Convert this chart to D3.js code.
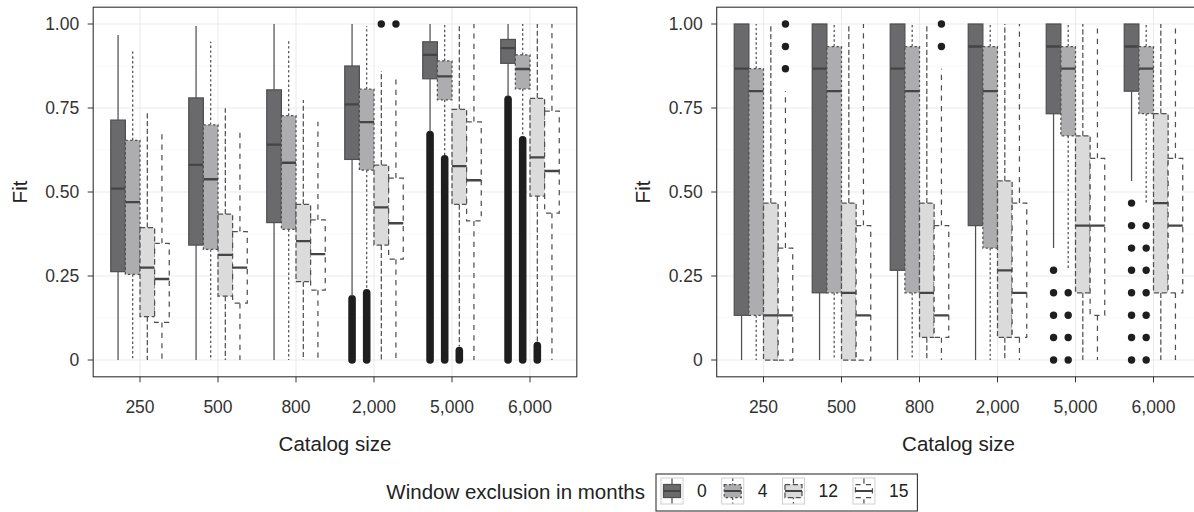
<!DOCTYPE html>
<html lang="en">
<meta charset="utf-8">
<script src="https://cdn.jsdelivr.net/npm/d3@7"></script>
<style>
body { margin: 0; background: #fff; }
svg { display: block; font-family: "Liberation Sans", Arial, sans-serif; }
.grid-major { stroke: #ebebeb; stroke-width: 1.1px; }
.grid-minor { stroke: #f5f5f5; stroke-width: 0.7px; }
.frame { fill: none; stroke: #333; stroke-width: 1.1px; }
.tick { stroke: #333; stroke-width: 1px; }
.ticklabel { fill: #333; font-size: 17.5px; }
.title { fill: #222; font-size: 20.5px; }
</style>
<body>
<script>
var categories = ["250", "500", "800", "2,000", "5,000", "6,000"];
var windows = ["0", "4", "12", "15"];
var yTicks = [0, 0.25, 0.5, 0.75, 1];
var yTickLabels = ["0", "0.25", "0.50", "0.75", "1.00"];
var yMinor = [0.125, 0.375, 0.625, 0.875];

// [lower whisker, q1, median, q3, upper whisker], one row per catalog size
var left0 = [[0, 0.263, 0.51, 0.714, 0.967], [0, 0.342, 0.581, 0.78, 0.994], [0, 0.409, 0.641, 0.804, 1],
             [0.19, 0.597, 0.761, 0.875, 1], [0.68, 0.837, 0.908, 0.947, 1], [0.785, 0.883, 0.928, 0.954, 1]];
var left4 = [[0, 0.255, 0.47, 0.654, 0.92], [0, 0.329, 0.538, 0.70, 0.947], [0, 0.389, 0.587, 0.727, 0.954],
             [0.21, 0.565, 0.708, 0.806, 0.994], [0.61, 0.774, 0.844, 0.89, 1], [0.665, 0.807, 0.866, 0.908, 1]];
var left12 = [[0, 0.129, 0.275, 0.394, 0.739], [0, 0.19, 0.313, 0.434, 0.749], [0, 0.233, 0.354, 0.463, 0.774],
              [0, 0.342, 0.454, 0.58, 0.86], [0.04, 0.463, 0.577, 0.746, 1], [0.055, 0.488, 0.603, 0.779, 1]];
var left15 = [[0, 0.112, 0.241, 0.347, 0.675], [0, 0.169, 0.275, 0.382, 0.68], [0, 0.208, 0.315, 0.417, 0.709],
              [0, 0.30, 0.407, 0.541, 0.836], [0, 0.414, 0.535, 0.709, 1], [0, 0.437, 0.5625, 0.741, 1]];

var right0 = [[0, 0.133, 0.867, 1, 1], [0, 0.2, 0.867, 1, 1], [0, 0.267, 0.867, 1, 1],
              [0, 0.4, 0.933, 1, 1], [0.333, 0.733, 0.933, 1, 1], [0.533, 0.8, 0.933, 1, 1]];
var right4 = [[0, 0.133, 0.8, 0.867, 1], [0, 0.2, 0.8, 0.933, 1], [0, 0.2, 0.8, 0.933, 1],
              [0, 0.333, 0.8, 0.933, 1], [0.267, 0.667, 0.867, 0.933, 1], [0.467, 0.733, 0.867, 0.933, 1]];
var right12 = [[0, 0, 0.133, 0.467, 1], [0, 0, 0.2, 0.467, 1], [0, 0.067, 0.2, 0.467, 1],
               [0, 0.067, 0.267, 0.533, 1], [0, 0.2, 0.4, 0.667, 1], [0, 0.2, 0.467, 0.733, 1]];
var right15 = [[0, 0, 0.133, 0.333, 0.8], [0, 0, 0.133, 0.4, 1], [0, 0.067, 0.133, 0.4, 0.867],
               [0, 0.067, 0.2, 0.467, 1], [0, 0.133, 0.4, 0.6, 1], [0, 0.2, 0.4, 0.6, 1]];

// dense columns of outliers (left panel): [catalog size, window, lowest, highest]
var leftOutlierRuns = [["2,000", "0", 0, 0.182], ["2,000", "4", 0, 0.2],
                       ["5,000", "0", 0, 0.671], ["5,000", "4", 0, 0.599], ["5,000", "12", 0, 0.028],
                       ["6,000", "0", 0, 0.776], ["6,000", "4", 0, 0.655], ["6,000", "12", 0, 0.043]];
var leftOutliers = [["2,000", "12", 1], ["2,000", "15", 1]];
var rightOutliers = [["250", "15", 1], ["250", "15", 0.933], ["250", "15", 0.867],
                     ["800", "15", 1], ["800", "15", 0.933],
                     ["5,000", "0", 0.267], ["5,000", "0", 0.2], ["5,000", "0", 0.133], ["5,000", "0", 0.067], ["5,000", "0", 0],
                     ["5,000", "4", 0.2], ["5,000", "4", 0.133], ["5,000", "4", 0.067], ["5,000", "4", 0],
                     ["6,000", "0", 0.467], ["6,000", "0", 0.4], ["6,000", "0", 0.333], ["6,000", "0", 0.267],
                     ["6,000", "0", 0.2], ["6,000", "0", 0.133], ["6,000", "0", 0.067], ["6,000", "0", 0],
                     ["6,000", "4", 0.4], ["6,000", "4", 0.333], ["6,000", "4", 0.267], ["6,000", "4", 0.2],
                     ["6,000", "4", 0.133], ["6,000", "4", 0.067], ["6,000", "4", 0]];

var fills = {"0": "#6a6a6d", "4": "#adadaf", "12": "#dbdbdc", "15": "#ffffff"};
var dashes = {"0": null, "4": "2.4,2.4", "12": "5.2,2.6", "15": "5.2,5.2"};
var lineColor = "#505050";
var lineW = 1.25;

function toBoxes(stats, w) {
    return stats.map(function(s, i) {
        return {cat: categories[i], win: w, lo: s[0], q1: s[1], med: s[2], q3: s[3], hi: s[4]};
    });
}

var W = 1194, H = 512;
var svg = d3.select("body").append("svg")
    .attr("width", W)
    .attr("height", H);

var y = d3.scaleLinear().domain([0, 1]).range([360, 24]);
var plotTop = 7.2, plotBottom = 376.8;

function drawPanel(x0, x1, boxes, runs, points, fitX) {
    var x = d3.scaleBand().domain(categories).range([x0, x1]).paddingInner(0).paddingOuter(0.1);
    var step = x.step();
    var xw = d3.scaleBand().domain(windows).range([-0.375 * step, 0.375 * step]);
    var bw = xw.bandwidth();
    function cx(d) {
        var c = Array.isArray(d) ? d[0] : d.cat;
        var w = Array.isArray(d) ? d[1] : d.win;
        return x(c) + x.bandwidth() / 2 + xw(w) + bw / 2;
    }

    var g = svg.append("g");
    var clipId = "clip" + Math.round(x0);
    g.append("clipPath").attr("id", clipId)
        .append("rect").attr("x", x0).attr("y", plotTop).attr("width", x1 - x0).attr("height", plotBottom - plotTop);

    // grid
    g.selectAll(".gmin").data(yMinor).enter().append("line")
        .attr("class", "grid-minor")
        .attr("x1", x0).attr("x2", x1)
        .attr("y1", function(d) { return y(d); }).attr("y2", function(d) { return y(d); });
    g.selectAll(".gmaj").data(yTicks).enter().append("line")
        .attr("class", "grid-major")
        .attr("x1", x0).attr("x2", x1)
        .attr("y1", function(d) { return y(d); }).attr("y2", function(d) { return y(d); });
    g.selectAll(".gx").data(categories).enter().append("line")
        .attr("class", "grid-major")
        .attr("x1", function(d) { return x(d) + x.bandwidth() / 2; })
        .attr("x2", function(d) { return x(d) + x.bandwidth() / 2; })
        .attr("y1", plotTop).attr("y2", plotBottom);

    var plot = g.append("g").attr("clip-path", "url(#" + clipId + ")");

    // outliers
    plot.selectAll(".run").data(runs).enter().append("line")
        .attr("x1", cx).attr("x2", cx)
        .attr("y1", function(d) { return y(d[2]); })
        .attr("y2", function(d) { return y(d[3]); })
        .attr("stroke", "#1e1e1e")
        .attr("stroke-width", 7.6)
        .attr("stroke-linecap", "round");
    plot.selectAll(".pt").data(points).enter().append("circle")
        .attr("cx", cx)
        .attr("cy", function(d) { return y(d[2]); })
        .attr("r", 3.7)
        .attr("fill", "#1e1e1e");

    var b = plot.selectAll(".box").data(boxes).enter().append("g");
    b.append("line")
        .attr("x1", cx).attr("x2", cx)
        .attr("y1", function(d) { return y(d.q3); })
        .attr("y2", function(d) { return y(d.hi); });
    b.append("line")
        .attr("x1", cx).attr("x2", cx)
        .attr("y1", function(d) { return y(d.q1); })
        .attr("y2", function(d) { return y(d.lo); });
    b.selectAll("line")
        .attr("stroke", lineColor)
        .attr("stroke-width", lineW)
        .attr("stroke-dasharray", function(d) { return dashes[d.win]; });
    b.append("rect")
        .attr("x", function(d) { return cx(d) - bw / 2; })
        .attr("y", function(d) { return y(d.q3); })
        .attr("width", bw)
        .attr("height", function(d) { return y(d.q1) - y(d.q3); })
        .attr("fill", function(d) { return fills[d.win]; })
        .attr("stroke", lineColor)
        .attr("stroke-width", lineW)
        .attr("stroke-dasharray", function(d) { return dashes[d.win]; });
    b.append("line")
        .attr("x1", function(d) { return cx(d) - bw / 2; })
        .attr("x2", function(d) { return cx(d) + bw / 2; })
        .attr("y1", function(d) { return y(d.med); })
        .attr("y2", function(d) { return y(d.med); })
        .attr("stroke", "#454545")
        .attr("stroke-width", 2.3);

    // frame
    g.append("rect").attr("class", "frame")
        .attr("x", x0).attr("y", plotTop).attr("width", x1 - x0).attr("height", plotBottom - plotTop);

    // y axis
    g.selectAll(".yt").data(yTicks).enter().append("line")
        .attr("class", "tick")
        .attr("x1", x0 - 5.5).attr("x2", x0)
        .attr("y1", function(d) { return y(d); }).attr("y2", function(d) { return y(d); });
    g.selectAll(".yl").data(yTicks).enter().append("text")
        .attr("class", "ticklabel")
        .attr("x", x0 - 14)
        .attr("y", function(d) { return y(d); })
        .attr("dy", "0.36em")
        .attr("text-anchor", "end")
        .text(function(d, i) { return yTickLabels[i]; });

    // x axis
    g.selectAll(".xt").data(categories).enter().append("line")
        .attr("class", "tick")
        .attr("x1", function(d) { return x(d) + x.bandwidth() / 2; })
        .attr("x2", function(d) { return x(d) + x.bandwidth() / 2; })
        .attr("y1", plotBottom).attr("y2", plotBottom + 5.5);
    g.selectAll(".xl").data(categories).enter().append("text")
        .attr("class", "ticklabel")
        .attr("x", function(d) { return x(d) + x.bandwidth() / 2; })
        .attr("y", 413)
        .attr("text-anchor", "middle")
        .text(function(d) { return d; });

    g.append("text").attr("class", "title")
        .attr("x", (x0 + x1) / 2).attr("y", 451)
        .attr("text-anchor", "middle")
        .text("Catalog size");
    g.append("text").attr("class", "title")
        .attr("transform", "translate(" + fitX + "," + ((plotTop + plotBottom) / 2) + ") rotate(-90)")
        .attr("text-anchor", "middle")
        .text("Fit");
}

var leftBoxes = [].concat(toBoxes(left0, "0"), toBoxes(left4, "4"), toBoxes(left12, "12"), toBoxes(left15, "15"));
var rightBoxes = [].concat(toBoxes(right0, "0"), toBoxes(right4, "4"), toBoxes(right12, "12"), toBoxes(right15, "15"));

drawPanel(93.2, 576.8, leftBoxes, leftOutlierRuns, leftOutliers, 26.5);
drawPanel(716.7, 1200.3, rightBoxes, [], rightOutliers, 650);

// legend
var leg = svg.append("g");
leg.append("text").attr("class", "title")
    .attr("x", 645).attr("y", 499)
    .attr("text-anchor", "end")
    .text("Window exclusion in months");

var keyW = 22, keyH = 26, keyY = 478;
var lx = 661;
windows.forEach(function(w) {
    var k = leg.append("g").attr("transform", "translate(" + lx + "," + keyY + ")");
    k.append("rect").attr("width", keyW).attr("height", keyH)
        .attr("fill", "#fff").attr("stroke", "#d0d0d0").attr("stroke-width", 1);
    k.append("line").attr("x1", keyW / 2).attr("x2", keyW / 2).attr("y1", 0.5).attr("y2", keyH - 0.5)
        .attr("stroke", lineColor).attr("stroke-width", lineW).attr("stroke-dasharray", dashes[w]);
    k.append("rect").attr("x", 2.5).attr("y", 6.5).attr("width", keyW - 5).attr("height", keyH - 13)
        .attr("fill", fills[w]).attr("stroke", lineColor).attr("stroke-width", lineW)
        .attr("stroke-dasharray", dashes[w]);
    k.append("line").attr("x1", 2.5).attr("x2", keyW - 2.5).attr("y1", keyH / 2).attr("y2", keyH / 2)
        .attr("stroke", "#454545").attr("stroke-width", 2);
    var t = leg.append("text").attr("class", "ticklabel")
        .attr("x", lx + keyW + 14).attr("y", keyY + keyH / 2)
        .attr("dy", "0.36em")
        .style("fill", "#222")
        .text(w);
    lx = lx + keyW + 14 + t.node().getComputedTextLength() + 15;
});
leg.append("rect").attr("class", "frame")
    .attr("x", 656).attr("y", 474)
    .attr("width", lx - 656 - 6)
    .attr("height", 37);
</script>
</body>
</html>
